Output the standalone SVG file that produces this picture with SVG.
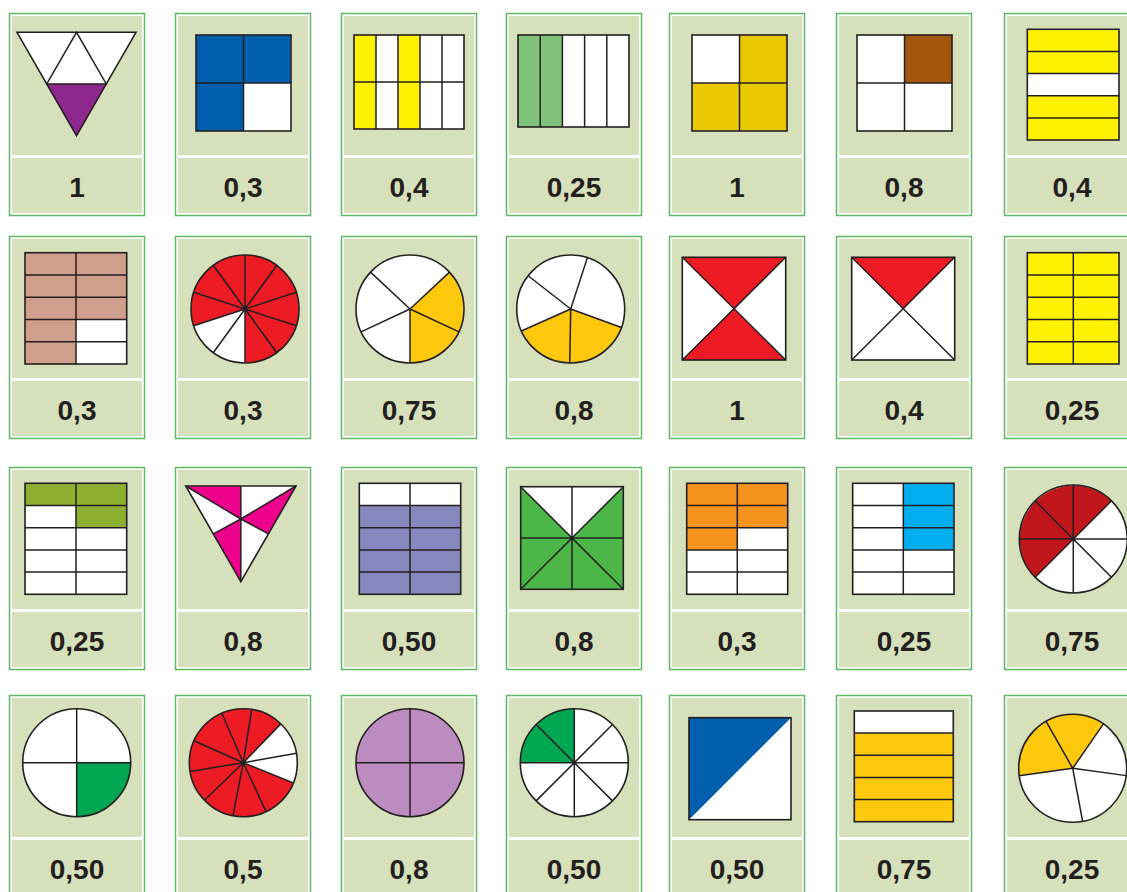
<svg xmlns="http://www.w3.org/2000/svg" xmlns:xlink="http://www.w3.org/1999/xlink" width="1127" height="892" viewBox="0 0 1127 892">
<style>
.lb{font-family:"Liberation Sans",Arial,sans-serif;font-weight:bold;font-size:28px;fill:#231f20;text-anchor:middle}
.ln{stroke:#231f20;stroke-width:1.5;fill:none}
.ol{stroke:#231f20;stroke-width:1.6;fill:none}
.w{fill:#ffffff}
</style>
<defs>
<g id="frame">
<rect x="0.5" y="0.5" width="135" height="202" fill="#ffffff" stroke="#5fb862" stroke-width="1.5"/>
<rect x="3" y="3" width="130" height="139" fill="#d6e0ba"/>
<rect x="3" y="145" width="130" height="55" fill="#d6e0ba"/>
</g>
</defs>
<rect width="1127" height="892" fill="#ffffff"/>

<!-- ROW 1 -->
<g id="r1c1">
<use xlink:href="#frame" x="9" y="13"/>
<polygon points="17,32.3 136,32.3 76.5,135.7" class="w"/>
<polygon points="46.75,84 106.25,84 76.5,135.7" fill="#8e288f"/>
<polygon points="17,32.3 136,32.3 76.5,135.7" class="ol"/>
<polygon points="46.75,84 106.25,84 76.5,32.3" class="ln"/>
<text class="lb" x="77" y="197">1</text>
</g>
<g id="r1c2">
<use xlink:href="#frame" x="175" y="13"/>
<rect x="196" y="35" width="95" height="96" fill="#005fad"/>
<rect x="243.5" y="83" width="47.5" height="48" class="w"/>
<path d="M243.5,35V131M196,83H291" class="ln"/>
<rect x="196" y="35" width="95" height="96" class="ol"/>
<text class="lb" x="243" y="197">0,3</text>
</g>
<g id="r1c3">
<use xlink:href="#frame" x="341" y="13"/>
<rect x="354" y="35" width="110" height="94" class="w"/>
<rect x="354" y="35" width="22" height="94" fill="#fff200"/>
<rect x="398" y="35" width="22" height="94" fill="#fff200"/>
<path d="M376,35V129M398,35V129M420,35V129M442,35V129M354,82H464" class="ln"/>
<rect x="354" y="35" width="110" height="94" class="ol"/>
<text class="lb" x="409" y="197">0,4</text>
</g>
<g id="r1c4">
<use xlink:href="#frame" x="506" y="13"/>
<rect x="518" y="35" width="111" height="92" class="w"/>
<rect x="518" y="35" width="44.4" height="92" fill="#7fc37b"/>
<path d="M540.2,35V127M562.4,35V127M584.6,35V127M606.8,35V127" class="ln"/>
<rect x="518" y="35" width="111" height="92" class="ol"/>
<text class="lb" x="574" y="197">0,25</text>
</g>
<g id="r1c5">
<use xlink:href="#frame" x="669" y="13"/>
<rect x="692" y="35" width="95" height="96" fill="#e8c900"/>
<rect x="692" y="35" width="47.5" height="48" class="w"/>
<path d="M739.5,35V131M692,83H787" class="ln"/>
<rect x="692" y="35" width="95" height="96" class="ol"/>
<text class="lb" x="737" y="197">1</text>
</g>
<g id="r1c6">
<use xlink:href="#frame" x="836" y="13"/>
<rect x="857" y="35" width="95" height="96" class="w"/>
<rect x="904.5" y="35" width="47.5" height="48" fill="#a3570c"/>
<path d="M904.5,35V131M857,83H952" class="ln"/>
<rect x="857" y="35" width="95" height="96" class="ol"/>
<text class="lb" x="904" y="197">0,8</text>
</g>
<g id="r1c7">
<use xlink:href="#frame" x="1004" y="13"/>
<rect x="1027.3" y="29.3" width="91.7" height="110.7" fill="#fff200"/>
<rect x="1027.3" y="73.6" width="91.7" height="22.1" class="w"/>
<path d="M1027.3,51.4H1119M1027.3,73.6H1119M1027.3,95.7H1119M1027.3,117.9H1119" class="ln"/>
<rect x="1027.3" y="29.3" width="91.7" height="110.7" class="ol"/>
<text class="lb" x="1072" y="197">0,4</text>
</g>

<!-- ROW 2 -->
<g id="r2c1">
<use xlink:href="#frame" x="9" y="236"/>
<rect x="25" y="252.7" width="101.7" height="111.3" fill="#cf9f8b"/>
<rect x="76" y="319.48" width="50.7" height="44.52" class="w"/>
<path d="M76,252.7V364M25,274.96H126.7M25,297.22H126.7M25,319.48H126.7M25,341.74H126.7" class="ln"/>
<rect x="25" y="252.7" width="101.7" height="111.3" class="ol"/>
<text class="lb" x="77" y="420">0,3</text>
</g>
<g id="r2c2">
<use xlink:href="#frame" x="175" y="236"/>
<circle cx="245" cy="309" r="54" fill="#ed1c24"/>
<path d="M245,309L245,363A54,54 0 0,1 193.64,325.69Z" class="w"/>
<path d="M245,309L296.36,325.69M245,309L276.74,352.69M245,309L245,363M245,309L213.26,352.69M245,309L193.64,325.69M245,309L193.64,292.31M245,309L213.26,265.31M245,309L245,255M245,309L276.74,265.31M245,309L296.36,292.31" class="ln"/>
<circle cx="245" cy="309" r="54" class="ol"/>
<text class="lb" x="243" y="420">0,3</text>
</g>
<g id="r2c3">
<use xlink:href="#frame" x="341" y="236"/>
<circle cx="410" cy="309" r="54" class="w"/>
<path d="M410,309L449.5,272.17A54,54 0 0,1 410,363Z" fill="#fec80d"/>
<path d="M410,309L410,363M410,309L361.06,331.82M410,309L370.5,272.17M410,309L449.5,272.17M410,309L458.94,331.82" class="ln"/>
<circle cx="410" cy="309" r="54" class="ol"/>
<text class="lb" x="409" y="420">0,75</text>
</g>
<g id="r2c4">
<use xlink:href="#frame" x="506" y="236"/>
<circle cx="570.7" cy="309" r="54" class="w"/>
<path d="M570.7,309L621.44,327.47A54,54 0 0,1 521.37,330.96Z" fill="#fec80d"/>
<path d="M570.7,309L569.76,363M570.7,309L521.37,330.96M570.7,309L528.15,275.75M570.7,309L587.39,257.64M570.7,309L621.44,327.47" class="ln"/>
<circle cx="570.7" cy="309" r="54" class="ol"/>
<text class="lb" x="574" y="420">0,8</text>
</g>
<g id="r2c5">
<use xlink:href="#frame" x="669" y="236"/>
<rect x="682.3" y="257.3" width="103.4" height="102.7" class="w"/>
<polygon points="682.3,257.3 785.7,257.3 734,308.7" fill="#ed1c24"/>
<polygon points="682.3,360 785.7,360 734,308.7" fill="#ed1c24"/>
<path d="M682.3,257.3L785.7,360M785.7,257.3L682.3,360" class="ln"/>
<rect x="682.3" y="257.3" width="103.4" height="102.7" class="ol"/>
<text class="lb" x="737" y="420">1</text>
</g>
<g id="r2c6">
<use xlink:href="#frame" x="836" y="236"/>
<rect x="851.7" y="257.3" width="103" height="102.7" class="w"/>
<polygon points="851.7,257.3 954.7,257.3 903.2,308.7" fill="#ed1c24"/>
<path d="M851.7,257.3L954.7,360M954.7,257.3L851.7,360" class="ln"/>
<rect x="851.7" y="257.3" width="103" height="102.7" class="ol"/>
<text class="lb" x="904" y="420">0,4</text>
</g>
<g id="r2c7">
<use xlink:href="#frame" x="1004" y="236"/>
<rect x="1027.3" y="252.7" width="91.7" height="111.3" fill="#fff200"/>
<path d="M1073.3,252.7V364M1027.3,274.96H1119M1027.3,297.22H1119M1027.3,319.48H1119M1027.3,341.74H1119" class="ln"/>
<rect x="1027.3" y="252.7" width="91.7" height="111.3" class="ol"/>
<text class="lb" x="1072" y="420">0,25</text>
</g>

<!-- ROW 3 -->
<g id="r3c1">
<use xlink:href="#frame" x="9" y="467"/>
<rect x="25" y="483.3" width="101.7" height="111" class="w"/>
<rect x="25" y="483.3" width="101.7" height="22.2" fill="#8db033"/>
<rect x="76" y="505.5" width="50.7" height="22.2" fill="#8db033"/>
<path d="M76,483.3V594.3M25,505.5H126.7M25,527.7H126.7M25,549.9H126.7M25,572.1H126.7" class="ln"/>
<rect x="25" y="483.3" width="101.7" height="111" class="ol"/>
<text class="lb" x="77" y="651">0,25</text>
</g>
<g id="r3c2">
<use xlink:href="#frame" x="175" y="467"/>
<polygon points="185.7,486 296,486 240.85,581.7" class="w"/>
<polygon points="185.7,486 240.85,486 240.85,519" fill="#ec008c"/>
<polygon points="296,486 268.4,533.9 240.85,519" fill="#ec008c"/>
<polygon points="240.85,581.7 213.3,533.9 240.85,519" fill="#ec008c"/>
<path d="M240.85,519L240.85,486M240.85,519L185.7,486M240.85,519L296,486M240.85,519L240.85,581.7M240.85,519L213.3,533.9M240.85,519L268.4,533.9" class="ln"/>
<polygon points="185.7,486 296,486 240.85,581.7" class="ol"/>
<text class="lb" x="243" y="651">0,8</text>
</g>
<g id="r3c3">
<use xlink:href="#frame" x="341" y="467"/>
<rect x="359.3" y="483.3" width="101.4" height="111" fill="#8687bc"/>
<rect x="359.3" y="483.3" width="101.4" height="22.2" class="w"/>
<path d="M410,483.3V594.3M359.3,505.5H460.7M359.3,527.7H460.7M359.3,549.9H460.7M359.3,572.1H460.7" class="ln"/>
<rect x="359.3" y="483.3" width="101.4" height="111" class="ol"/>
<text class="lb" x="409" y="651">0,50</text>
</g>
<g id="r3c4">
<use xlink:href="#frame" x="506" y="467"/>
<rect x="520.7" y="486.7" width="102.6" height="102.6" fill="#4cb748"/>
<polygon points="520.7,486.7 623.3,486.7 572,538" class="w"/>
<path d="M520.7,486.7L623.3,589.3M623.3,486.7L520.7,589.3M572,486.7V589.3M520.7,538H623.3" class="ln"/>
<rect x="520.7" y="486.7" width="102.6" height="102.6" class="ol"/>
<text class="lb" x="574" y="651">0,8</text>
</g>
<g id="r3c5">
<use xlink:href="#frame" x="669" y="467"/>
<rect x="686.7" y="483.3" width="101" height="111" class="w"/>
<rect x="686.7" y="483.3" width="101" height="44.4" fill="#f7941d"/>
<rect x="686.7" y="527.7" width="50.6" height="22.2" fill="#f7941d"/>
<path d="M737.3,483.3V594.3M686.7,505.5H787.7M686.7,527.7H787.7M686.7,549.9H787.7M686.7,572.1H787.7" class="ln"/>
<rect x="686.7" y="483.3" width="101" height="111" class="ol"/>
<text class="lb" x="737" y="651">0,3</text>
</g>
<g id="r3c6">
<use xlink:href="#frame" x="836" y="467"/>
<rect x="852.7" y="483.3" width="101.3" height="111" class="w"/>
<rect x="903.3" y="483.3" width="50.7" height="66.6" fill="#00aeef"/>
<path d="M903.3,483.3V594.3M852.7,505.5H954M852.7,527.7H954M852.7,549.9H954M852.7,572.1H954" class="ln"/>
<rect x="852.7" y="483.3" width="101.3" height="111" class="ol"/>
<text class="lb" x="904" y="651">0,25</text>
</g>
<g id="r3c7">
<use xlink:href="#frame" x="1004" y="467"/>
<circle cx="1073.3" cy="539" r="54" class="w"/>
<path d="M1073.3,539L1035.12,577.18A54,54 0 0,1 1111.48,500.82Z" fill="#c1161c"/>
<path d="M1019.3,539H1127.3M1073.3,485V593M1035.12,500.82L1111.48,577.18M1111.48,500.82L1035.12,577.18" class="ln"/>
<circle cx="1073.3" cy="539" r="54" class="ol"/>
<text class="lb" x="1072" y="651">0,75</text>
</g>

<!-- ROW 4 -->
<g id="r4c1">
<use xlink:href="#frame" x="9" y="695"/>
<circle cx="76.7" cy="762.7" r="54" class="w"/>
<path d="M76.7,762.7L130.7,762.7A54,54 0 0,1 76.7,816.7Z" fill="#00a651"/>
<path d="M22.7,762.7H130.7M76.7,708.7V816.7" class="ln"/>
<circle cx="76.7" cy="762.7" r="54" class="ol"/>
<text class="lb" x="77" y="879">0,50</text>
</g>
<g id="r4c2">
<use xlink:href="#frame" x="175" y="695"/>
<circle cx="243.3" cy="762.7" r="54" fill="#ed1c24"/>
<path d="M243.3,762.7L280.81,723.86A54,54 0 0,1 293.37,782.93Z" class="w"/>
<path d="M243.3,762.7L296.48,753.33M243.3,762.7L280.81,723.86M243.3,762.7L251.75,709.37M243.3,762.7L221.77,713.18M243.3,762.7L193.97,740.74M243.3,762.7L190.04,771.61M243.3,762.7L204.46,800.21M243.3,762.7L233,815.71M243.3,762.7L266.12,811.64M243.3,762.7L293.37,782.93" class="ln"/>
<circle cx="243.3" cy="762.7" r="54" class="ol"/>
<text class="lb" x="243" y="879">0,5</text>
</g>
<g id="r4c3">
<use xlink:href="#frame" x="341" y="695"/>
<circle cx="410" cy="762.7" r="54" fill="#bc8bbf"/>
<path d="M356,762.7H464M410,708.7V816.7" class="ln"/>
<circle cx="410" cy="762.7" r="54" class="ol"/>
<text class="lb" x="409" y="879">0,8</text>
</g>
<g id="r4c4">
<use xlink:href="#frame" x="506" y="695"/>
<circle cx="574.3" cy="762.7" r="54" class="w"/>
<path d="M574.3,762.7L520.3,762.7A54,54 0 0,1 574.3,708.7Z" fill="#00a651"/>
<path d="M520.3,762.7H628.3M574.3,708.7V816.7M536.12,724.52L612.48,800.88M612.48,724.52L536.12,800.88" class="ln"/>
<circle cx="574.3" cy="762.7" r="54" class="ol"/>
<text class="lb" x="574" y="879">0,50</text>
</g>
<g id="r4c5">
<use xlink:href="#frame" x="669" y="695"/>
<rect x="689" y="717.7" width="102" height="102" class="w"/>
<polygon points="689,717.7 791,717.7 689,819.7" fill="#005fad"/>
<rect x="689" y="717.7" width="102" height="102" class="ol"/>
<text class="lb" x="737" y="879">0,50</text>
</g>
<g id="r4c6">
<use xlink:href="#frame" x="836" y="695"/>
<rect x="854.3" y="711" width="99" height="110.7" fill="#fec80d"/>
<rect x="854.3" y="711" width="99" height="22.1" class="w"/>
<path d="M854.3,733.1H953.3M854.3,755.3H953.3M854.3,777.4H953.3M854.3,799.6H953.3" class="ln"/>
<rect x="854.3" y="711" width="99" height="110.7" class="ol"/>
<text class="lb" x="904" y="879">0,75</text>
</g>
<g id="r4c7">
<use xlink:href="#frame" x="1004" y="695"/>
<circle cx="1072.7" cy="768.3" r="54" class="w"/>
<path d="M1072.7,768.3L1019.22,775.82A54,54 0 0,1 1103.44,723.91Z" fill="#fec80d"/>
<path d="M1072.7,768.3L1019.22,775.82M1072.7,768.3L1046.11,721.3M1072.7,768.3L1103.44,723.91M1072.7,768.3L1126.2,775.63M1072.7,768.3L1082.63,821.38" class="ln"/>
<circle cx="1072.7" cy="768.3" r="54" class="ol"/>
<text class="lb" x="1072" y="879">0,25</text>
</g>
<g id="connectors"/>
</svg>
